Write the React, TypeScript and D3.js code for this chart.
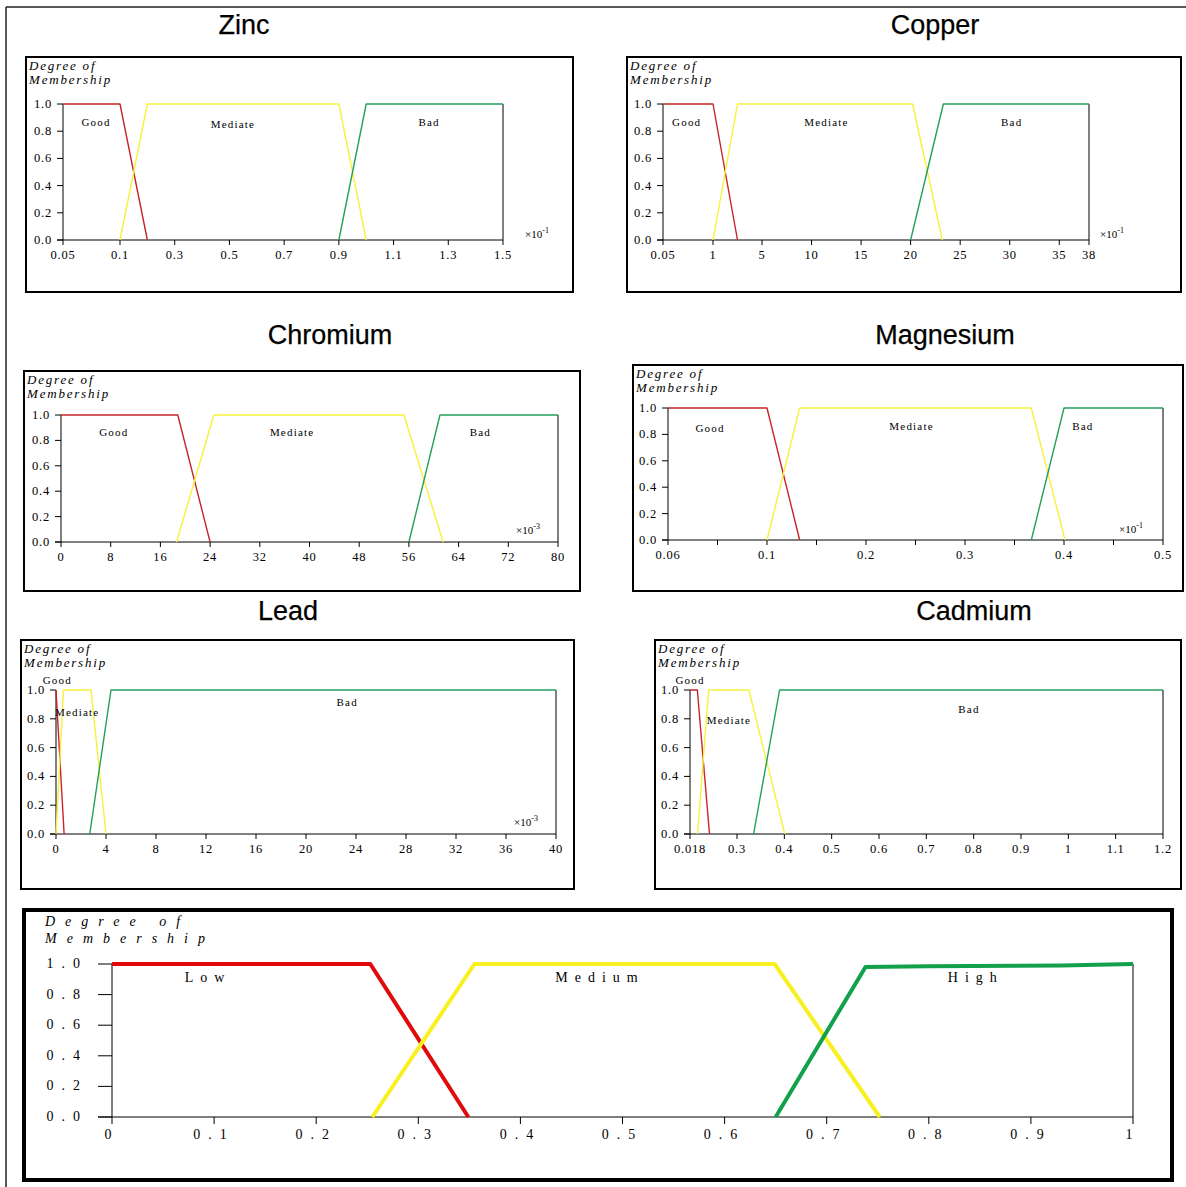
import React from 'react';
import * as d3 from 'd3';

type Pt = [number, number];

// membership axis (shared)
const memberTicks = [0, 0.2, 0.4, 0.6, 0.8, 1.0];

// Zinc
const zincTicks = [0.05, 0.1, 0.3, 0.5, 0.7, 0.9, 1.1, 1.3, 1.5];
const zincGood: Pt[] = [[0.05, 1], [0.1, 1], [0.2, 0]];
const zincMediate: Pt[] = [[0.1, 0], [0.2, 1], [0.9, 1], [1.0, 0]];
const zincBad: Pt[] = [[0.9, 0], [1.0, 1], [1.5, 1]];

// Copper
const copperTicks = [0.05, 1, 5, 10, 15, 20, 25, 30, 35, 38];
const copperGood: Pt[] = [[0.05, 1], [1, 1], [3, 0]];
const copperMediate: Pt[] = [[1, 0], [3, 1], [20.2, 1], [23.2, 0]];
const copperBad: Pt[] = [[20, 0], [23.3, 1], [38, 1]];

// Chromium
const chromiumTicks = [0, 8, 16, 24, 32, 40, 48, 56, 64, 72, 80];
const chromiumGood: Pt[] = [[0, 1], [18.8, 1], [24, 0]];
const chromiumMediate: Pt[] = [[18.6, 0], [24.6, 1], [55.2, 1], [61.5, 0]];
const chromiumBad: Pt[] = [[56, 0], [61, 1], [80, 1]];

// Magnesium
const magnesiumTicks = [0.06, 0.1, 0.2, 0.3, 0.4, 0.5];
const magnesiumMinor = [0.08, 0.15, 0.25, 0.35, 0.45];
const magnesiumGood: Pt[] = [[0.06, 1], [0.1, 1], [0.133, 0]];
const magnesiumMediate: Pt[] = [[0.1, 0], [0.133, 1], [0.367, 1], [0.401, 0]];
const magnesiumBad: Pt[] = [[0.367, 0], [0.4, 1], [0.5, 1]];

// Lead
const leadTicks = [0, 4, 8, 12, 16, 20, 24, 28, 32, 36, 40];
const leadGood: Pt[] = [[0, 1], [0.65, 0]];
const leadMediate: Pt[] = [[0, 0], [0.6, 1], [2.8, 1], [4, 0]];
const leadBad: Pt[] = [[2.7, 0], [4.4, 1], [40, 1]];

// Cadmium
const cadmiumTicks = [0.018, 0.3, 0.4, 0.5, 0.6, 0.7, 0.8, 0.9, 1, 1.1, 1.2];
const cadmiumGood: Pt[] = [[0.018, 1], [0.062, 1], [0.135, 0]];
const cadmiumMediate: Pt[] = [[0.063, 0], [0.13, 1], [0.325, 1], [0.401, 0]];
const cadmiumBad: Pt[] = [[0.335, 0], [0.39, 1], [1.2, 1]];

// Output (water quality)
const outTicks = [0, 0.1, 0.2, 0.3, 0.4, 0.5, 0.6, 0.7, 0.8, 0.9, 1];
const outLow: Pt[] = [[0, 1], [0.253, 1], [0.349, 0]];
const outMedium: Pt[] = [[0.255, 0], [0.355, 1], [0.649, 1], [0.752, 0]];
const outHigh: Pt[] = [[0.65, 0], [0.738, 0.98], [0.8, 0.985], [0.93, 0.99], [1, 1]];

const RED = '#c8242a';
const YELLOW = '#f6f23c';
const GREEN = '#23a05c';

const serif = "'Liberation Serif', 'DejaVu Serif', serif";
const sans = "'Liberation Sans', Arial, sans-serif";

const Panel = ({ cfg }: { cfg: any }) => {
  const x = d3.scaleLinear().domain(cfg.xDomain).range(cfg.xRange);
  const y = d3.scaleLinear().domain([0, 1]).range([cfg.yBottom, cfg.yTop]);
  const line = d3.line<Pt>().x(d => x(d[0])).y(d => y(d[1]));
  const x0 = x(cfg.xDomain[0]);
  const x1 = x(cfg.xDomain[cfg.xDomain.length - 1]);
  const big = !!cfg.big;
  const [bx, by, bw, bh] = cfg.box;
  const fmtY = d3.format('.1f');
  const tickFs = big ? 14 : 12.5;
  const tickLs = big ? 8 : 0.8;
  return (
    <g>
      {cfg.title && (
        <text x={cfg.titleX} y={cfg.titleY} textAnchor="middle" fontFamily={sans}
          fontSize={27} stroke="#000" strokeWidth={0.25}>{cfg.title}</text>
      )}
      <rect x={bx} y={by} width={bw} height={bh} fill="#fff" stroke="#000" strokeWidth={cfg.bw} />
      <text fontFamily={serif} fontStyle="italic" fontSize={big ? 14 : 13} letterSpacing={big ? 10 : 1.8}>
        <tspan x={bx + (big ? 21 : 3)} y={by + (big ? 16 : 13)}>Degree of</tspan>
        <tspan x={bx + (big ? 21 : 3)} y={by + (big ? 33 : 27)}>Membership</tspan>
      </text>
      {/* axes */}
      <line x1={x0} x2={x0} y1={cfg.yTop} y2={cfg.yBottom} stroke="#000" strokeWidth={1} />
      <line x1={x1} x2={x1} y1={cfg.yTop} y2={cfg.yBottom} stroke="#000" strokeWidth={1} />
      <line x1={x0 - (big ? 14 : 6)} x2={x1} y1={cfg.yBottom} y2={cfg.yBottom} stroke="#000" strokeWidth={1} />
      {memberTicks.map(t => (
        <g key={'y' + t}>
          <line x1={x0 - (big ? 14 : 6)} x2={x0} y1={y(t)} y2={y(t)} stroke="#000" />
          <text x={x0 - (big ? 24 : 11)} y={y(t) + 4} textAnchor="end" fontFamily={serif}
            fontSize={tickFs} letterSpacing={tickLs}>{fmtY(t)}</text>
        </g>
      ))}
      {cfg.ticks.map((t: number) => (
        <g key={'x' + t}>
          <line x1={x(t)} x2={x(t)} y1={cfg.yBottom} y2={cfg.yBottom + (big ? 7 : 5)} stroke="#000" />
          <text x={x(t)} y={cfg.yBottom + (big ? 22 : 19)} textAnchor="middle" fontFamily={serif}
            fontSize={tickFs} letterSpacing={tickLs}>{String(t)}</text>
        </g>
      ))}
      {(cfg.minor || []).map((t: number) => (
        <line key={'m' + t} x1={x(t)} x2={x(t)} y1={cfg.yBottom} y2={cfg.yBottom + 5} stroke="#000" />
      ))}
      {cfg.series.map((s: any, i: number) => (
        <path key={i} d={line(s.pts) || ''} fill="none" stroke={s.color}
          strokeWidth={big ? 4 : 1.4} strokeLinejoin="round" />
      ))}
      {cfg.labels.map((l: any) => (
        <text key={l.text} x={x(l.x)} y={y(l.y) + 4} textAnchor="middle" fontFamily={serif}
          fontSize={big ? 14 : 11} letterSpacing={big ? 7 : 1.2}>{l.text}</text>
      ))}
      {cfg.mult && (
        <text x={cfg.mult.x} y={cfg.mult.y} fontFamily={serif} fontSize={11}>
          ×10<tspan dy={-5} fontSize={8}>{cfg.mult.exp}</tspan>
        </text>
      )}
    </g>
  );
};

const panels: any[] = [
  {
    title: 'Zinc', titleX: 244, titleY: 34, box: [26, 57, 547, 235], bw: 2,
    xDomain: [0.05, 0.1, 1.5], xRange: [63, 120, 503], yTop: 104, yBottom: 240,
    ticks: zincTicks,
    series: [{ pts: zincGood, color: RED }, { pts: zincMediate, color: YELLOW }, { pts: zincBad, color: GREEN }],
    labels: [{ text: 'Good', x: 0.079, y: 0.87 }, { text: 'Mediate', x: 0.513, y: 0.85 }, { text: 'Bad', x: 1.23, y: 0.87 }],
    mult: { x: 525, y: 238, exp: '-1' },
  },
  {
    title: 'Copper', titleX: 935, titleY: 34, box: [627, 57, 554, 235], bw: 2,
    xDomain: [0.05, 1, 5, 38], xRange: [663, 713, 762, 1089], yTop: 104, yBottom: 240,
    ticks: copperTicks,
    series: [{ pts: copperGood, color: RED }, { pts: copperMediate, color: YELLOW }, { pts: copperBad, color: GREEN }],
    labels: [{ text: 'Good', x: 0.5, y: 0.87 }, { text: 'Mediate', x: 11.5, y: 0.87 }, { text: 'Bad', x: 30.2, y: 0.87 }],
    mult: { x: 1100, y: 238, exp: '-1' },
  },
  {
    title: 'Chromium', titleX: 330, titleY: 344, box: [24, 371, 556, 220], bw: 2,
    xDomain: [0, 80], xRange: [61, 558], yTop: 415, yBottom: 542,
    ticks: chromiumTicks,
    series: [{ pts: chromiumGood, color: RED }, { pts: chromiumMediate, color: YELLOW }, { pts: chromiumBad, color: GREEN }],
    labels: [{ text: 'Good', x: 8.5, y: 0.87 }, { text: 'Mediate', x: 37.2, y: 0.87 }, { text: 'Bad', x: 67.5, y: 0.87 }],
    mult: { x: 516, y: 534, exp: '-3' },
  },
  {
    title: 'Magnesium', titleX: 945, titleY: 344, box: [633, 365, 550, 226], bw: 2,
    xDomain: [0.06, 0.1, 0.5], xRange: [668, 767, 1163], yTop: 408, yBottom: 540,
    ticks: magnesiumTicks, minor: magnesiumMinor,
    series: [{ pts: magnesiumGood, color: RED }, { pts: magnesiumMediate, color: YELLOW }, { pts: magnesiumBad, color: GREEN }],
    labels: [{ text: 'Good', x: 0.077, y: 0.85 }, { text: 'Mediate', x: 0.246, y: 0.86 }, { text: 'Bad', x: 0.419, y: 0.86 }],
    mult: { x: 1119, y: 533, exp: '-1' },
  },
  {
    title: 'Lead', titleX: 288, titleY: 620, box: [21, 640, 553, 249], bw: 2,
    xDomain: [0, 40], xRange: [56, 556], yTop: 690, yBottom: 834,
    ticks: leadTicks,
    series: [{ pts: leadGood, color: RED }, { pts: leadMediate, color: YELLOW }, { pts: leadBad, color: GREEN }],
    labels: [{ text: 'Good', x: 0.1, y: 1.07 }, { text: 'Mediate', x: 1.7, y: 0.85 }, { text: 'Bad', x: 23.3, y: 0.92 }],
    mult: { x: 514, y: 826, exp: '-3' },
  },
  {
    title: 'Cadmium', titleX: 974, titleY: 620, box: [655, 640, 526, 249], bw: 2,
    xDomain: [0.018, 0.3, 1.2], xRange: [690, 737, 1163], yTop: 690, yBottom: 834,
    ticks: cadmiumTicks,
    series: [{ pts: cadmiumGood, color: RED }, { pts: cadmiumMediate, color: YELLOW }, { pts: cadmiumBad, color: GREEN }],
    labels: [{ text: 'Good', x: 0.018, y: 1.07 }, { text: 'Mediate', x: 0.252, y: 0.79 }, { text: 'Bad', x: 0.79, y: 0.87 }],
  },
  {
    big: true, box: [24, 910, 1148, 270], bw: 4,
    xDomain: [0, 1], xRange: [112, 1133], yTop: 964, yBottom: 1117,
    ticks: outTicks,
    series: [{ pts: outLow, color: '#e00a0a' }, { pts: outMedium, color: '#f8f020' }, { pts: outHigh, color: '#12a04a' }],
    labels: [{ text: 'Low', x: 0.094, y: 0.91 }, { text: 'Medium', x: 0.478, y: 0.91 }, { text: 'High', x: 0.846, y: 0.91 }],
  },
];

export default function App() {
  return (
    <svg width={1186} height={1187} style={{ position: 'absolute', left: 0, top: 0, background: '#fff' }}>
      <rect x={0} y={0} width={1186} height={1187} fill="#fff" />
      <line x1={6} x2={6} y1={7} y2={1187} stroke="#222" strokeWidth={1.5} />
      <line x1={6} x2={1186} y1={7} y2={7} stroke="#222" strokeWidth={1.5} />
      {panels.map((p, i) => <Panel key={i} cfg={p} />)}
    </svg>
  );
}
